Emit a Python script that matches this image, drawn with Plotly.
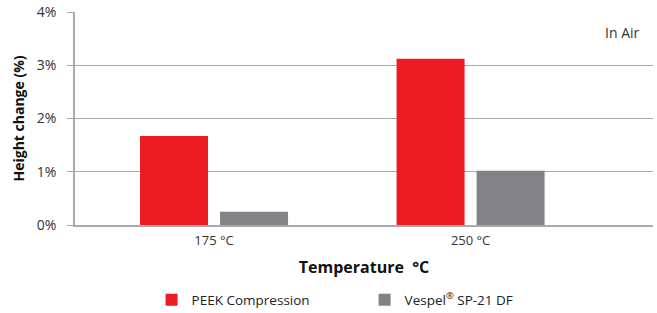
import plotly.graph_objects as go

categories = ["175 °C", "250 °C"]
peek_values = [1.67, 3.12]
vespel_values = [0.25, 1.02]
y_tickvals = [0, 1, 2, 3, 4]
y_ticktext = ["0%", "1%", "2%", "3%", "4%"]

RED = "#ED1C24"
GRAY = "#838387"
GRID = "#AAAAAA"
FONT = "Open Sans"

fig = go.Figure()
fig.add_trace(go.Bar(
    x=[0, 1], y=peek_values, name="PEEK Compression",
    marker=dict(color=RED, line=dict(width=0)),
    width=0.265, offset=-0.2885,
))
fig.add_trace(go.Bar(
    x=[0, 1], y=vespel_values, name="Vespel<sup>®</sup> SP-21 DF",
    marker=dict(color=GRAY, line=dict(width=0)),
    width=0.265, offset=0.0234,
))

fig.update_layout(
    width=657, height=313,
    margin=dict(l=75, r=4, t=12, b=88, autoexpand=False),
    plot_bgcolor="white", paper_bgcolor="white",
    font=dict(family=FONT, size=13, color="#333333"),
    showlegend=True,
    legend=dict(
        orientation="h", x=0.501, xanchor="center", y=-0.352, yanchor="middle",
        font=dict(family=FONT, size=13.5, color="#222222"),
        entrywidth=168, entrywidthmode="pixels",
        itemwidth=30,
    ),
    xaxis=dict(
        range=[-0.542, 1.711],
        tickvals=[0, 1], ticktext=categories,
        showgrid=False, zeroline=False,
        showline=True, linecolor=GRID, linewidth=1.5,
        ticks="", tickfont=dict(size=13, color="#333333"),
        ticklabelstandoff=3,
        title=dict(text="<b>Temperature  °C</b>", font=dict(size=16, color="#111111"), standoff=13),
        automargin=False,
        fixedrange=True,
    ),
    yaxis=dict(
        range=[0, 4],
        tickvals=y_tickvals, ticktext=y_ticktext,
        showgrid=True, gridcolor=GRID, gridwidth=1.2,
        zeroline=False,
        showline=True, linecolor=GRID, linewidth=1.5,
        ticks="outside", ticklen=6, tickcolor=GRID, tickwidth=1.2,
        tickfont=dict(size=14, color="#333333"),
        ticklabelstandoff=8,
        title=dict(text="<b>Height change (%)</b>", font=dict(size=14, color="#111111"), standoff=9),
        automargin=False,
        fixedrange=True,
    ),
    annotations=[dict(
        text="In Air", xref="paper", yref="paper", x=0.981, y=0.906,
        xanchor="right", yanchor="middle", showarrow=False,
        font=dict(family=FONT, size=14, color="#333333"),
    )],
)

fig.write_html(
    "out.html",
    config={"displayModeBar": False},
    post_script="document.body.style.margin='0';document.body.style.overflow='hidden';",
)
